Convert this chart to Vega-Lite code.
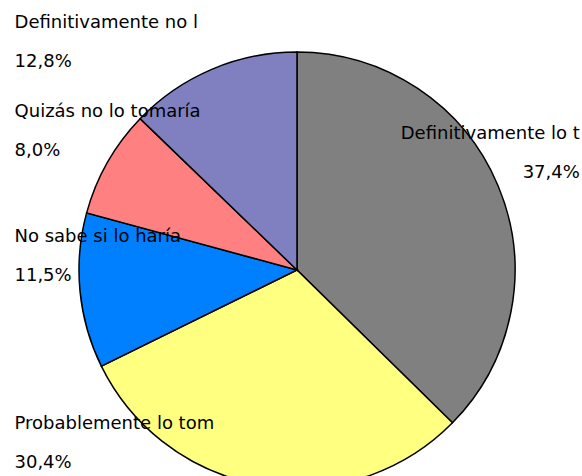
{
  "$schema": "https://vega.github.io/schema/vega-lite/v6.json",
  "width": 570,
  "height": 412,
  "padding": {"left": 12, "top": 64, "right": 0, "bottom": 0},
  "autosize": "none",
  "background": "white",
  "config": {"view": {"stroke": null}},
  "data": {
    "values": [
      {"categoria": "Definitivamente lo t", "porcentaje": 37.4, "etiqueta": ["Definitivamente lo t", "37,4%"], "orden": 1},
      {"categoria": "Probablemente lo tom", "porcentaje": 30.4, "etiqueta": ["Probablemente lo tom", "30,4%"], "orden": 2},
      {"categoria": "No sabe si lo haría", "porcentaje": 11.5, "etiqueta": ["No sabe si lo haría", "11,5%"], "orden": 3},
      {"categoria": "Quizás no lo tomaría", "porcentaje": 8.0, "etiqueta": ["Quizás no lo tomaría", "8,0%"], "orden": 4},
      {"categoria": "Definitivamente no l", "porcentaje": 12.8, "etiqueta": ["Definitivamente no l", "12,8%"], "orden": 5}
    ]
  },
  "encoding": {
    "theta": {"field": "porcentaje", "type": "quantitative", "stack": true},
    "order": {"field": "orden", "type": "quantitative", "sort": "ascending"},
    "detail": {"field": "categoria", "type": "nominal"}
  },
  "layer": [
    {
      "mark": {"type": "arc", "radius": 218, "stroke": "black", "strokeWidth": 1.5},
      "encoding": {
        "color": {
          "field": "categoria",
          "type": "nominal",
          "scale": {
            "domain": ["Definitivamente lo t", "Probablemente lo tom", "No sabe si lo haría", "Quizás no lo tomaría", "Definitivamente no l"],
            "range": ["#808080", "#FFFF80", "#0080FF", "#FF8080", "#8080C0"]
          },
          "legend": null
        }
      }
    },
    {
      "mark": {"type": "text", "radius": 150, "align": "right", "baseline": "alphabetic", "dx": 144.5, "dy": -73, "font": "DejaVu Sans", "fontSize": 18, "lineHeight": 39, "fill": "black"},
      "encoding": {"text": {"condition": {"test": "datum.orden === 1", "field": "etiqueta", "type": "nominal"}, "value": ""}}
    },
    {
      "mark": {"type": "text", "radius": 150, "align": "left", "baseline": "alphabetic", "dx": -258.6, "dy": 10.9, "font": "DejaVu Sans", "fontSize": 18, "lineHeight": 39, "fill": "black"},
      "encoding": {"text": {"condition": {"test": "datum.orden === 2", "field": "etiqueta", "type": "nominal"}, "value": ""}}
    },
    {
      "mark": {"type": "text", "radius": 150, "align": "left", "baseline": "alphabetic", "dx": -133.2, "dy": -42.4, "font": "DejaVu Sans", "fontSize": 18, "lineHeight": 39, "fill": "black"},
      "encoding": {"text": {"condition": {"test": "datum.orden === 3", "field": "etiqueta", "type": "nominal"}, "value": ""}}
    },
    {
      "mark": {"type": "text", "radius": 150, "align": "left", "baseline": "alphabetic", "dx": -152, "dy": -79, "font": "DejaVu Sans", "fontSize": 18, "lineHeight": 39, "fill": "black"},
      "encoding": {"text": {"condition": {"test": "datum.orden === 4", "field": "etiqueta", "type": "nominal"}, "value": ""}}
    },
    {
      "mark": {"type": "text", "radius": 150, "align": "left", "baseline": "alphabetic", "dx": -223.8, "dy": -103.9, "font": "DejaVu Sans", "fontSize": 18, "lineHeight": 39, "fill": "black"},
      "encoding": {"text": {"condition": {"test": "datum.orden === 5", "field": "etiqueta", "type": "nominal"}, "value": ""}}
    }
  ]
}
